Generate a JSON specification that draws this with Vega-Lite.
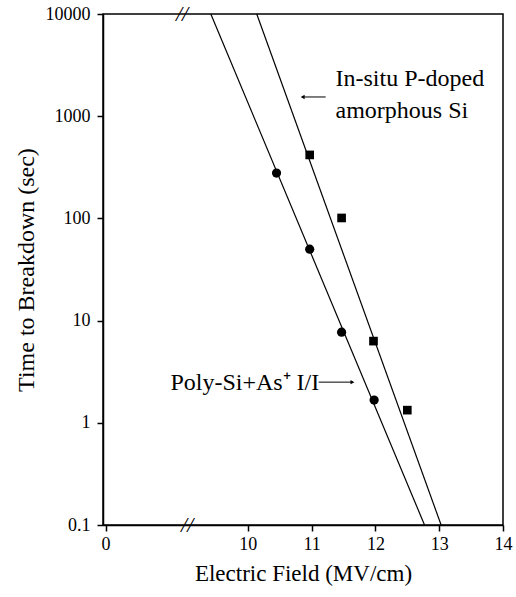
{
  "$schema": "https://vega.github.io/schema/vega-lite/v6.json",
  "width": 400,
  "height": 511,
  "autosize": "none",
  "padding": {"left": 103, "top": 14, "right": 13, "bottom": 72},
  "background": "white",
  "config": {
    "font": "Liberation Serif",
    "view": {"stroke": "#000", "strokeWidth": 1.5},
    "axis": {
      "grid": false,
      "domainColor": "#000",
      "domainWidth": 1.5,
      "tickColor": "#000",
      "tickWidth": 1.5,
      "tickSize": 6,
      "labelFont": "Liberation Serif",
      "labelFontSize": 18,
      "labelColor": "#000",
      "labelFlush": false,
      "labelOverlap": false,
      "titleFont": "Liberation Serif",
      "titleFontWeight": "normal",
      "titleColor": "#000"
    }
  },
  "datasets": {
    "poly": [
      {"x": 10.45, "y": 278},
      {"x": 10.97, "y": 50},
      {"x": 11.47, "y": 7.7},
      {"x": 11.98, "y": 1.67}
    ],
    "insitu": [
      {"x": 10.97, "y": 418},
      {"x": 11.47, "y": 101},
      {"x": 11.97, "y": 6.3},
      {"x": 12.5, "y": 1.33}
    ],
    "fits": [
      {"series": "poly", "x": 9.42, "y": 10000},
      {"series": "poly", "x": 12.77, "y": 0.1},
      {"series": "insitu", "x": 10.14, "y": 10000},
      {"series": "insitu", "x": 13.03, "y": 0.1}
    ],
    "arrowLeft": [{"x": 10.86, "x2": 11.22, "y": 1542}],
    "arrowRight": [{"x": 11.11, "x2": 11.64, "y": 2.5}],
    "labelsLeft": [
      {"x": 11.375, "y": 1973, "label": "In-situ P-doped"},
      {"x": 11.375, "y": 959, "label": "amorphous Si"}
    ],
    "labelsRight": [
      {"x": 11.12, "y": 2.09, "label": "Poly-Si+As⁺ I/I"}
    ],
    "breaks": [
      {"x": 8.97, "y": 10000, "label": "//"},
      {"x": 9.05, "y": 0.1, "label": "//"}
    ]
  },
  "encoding": {
    "x": {
      "field": "x",
      "type": "quantitative",
      "scale": {"domain": [7.73, 14], "nice": false, "zero": false},
      "axis": {
        "values": [7.77, 10, 11, 12, 13, 14],
        "labelExpr": "datum.value < 9 ? '0' : datum.label",
        "labelPadding": 4,
        "title": "Electric Field (MV/cm)",
        "titleFontSize": 23,
        "titlePadding": 9
      }
    },
    "y": {
      "field": "y",
      "type": "quantitative",
      "scale": {"type": "log", "domain": [0.1, 10000], "nice": false},
      "axis": {
        "values": [0.1, 1, 10, 100, 1000, 10000],
        "format": "~g",
        "labelPadding": 7,
        "title": "Time to Breakdown (sec)",
        "titleFontSize": 24,
        "titlePadding": 7
      }
    }
  },
  "layer": [
    {
      "data": {"name": "fits"},
      "mark": {"type": "line", "color": "#000", "strokeWidth": 1.2},
      "encoding": {"detail": {"field": "series"}}
    },
    {
      "data": {"name": "poly"},
      "mark": {"type": "point", "shape": "circle", "filled": true, "color": "#000", "size": 85, "opacity": 1}
    },
    {
      "data": {"name": "insitu"},
      "mark": {"type": "point", "shape": "square", "filled": true, "color": "#000", "size": 75, "opacity": 1}
    },
    {
      "data": {"name": "arrowLeft"},
      "mark": {"type": "rule", "color": "#000", "strokeWidth": 1},
      "encoding": {"x2": {"field": "x2"}}
    },
    {
      "data": {"name": "arrowLeft"},
      "mark": {"type": "point", "shape": "triangle-left", "filled": true, "color": "#000", "size": 20, "opacity": 1}
    },
    {
      "data": {"name": "arrowRight"},
      "mark": {"type": "rule", "color": "#000", "strokeWidth": 1},
      "encoding": {"x2": {"field": "x2"}}
    },
    {
      "data": {"name": "arrowRight"},
      "mark": {"type": "point", "shape": "triangle-right", "filled": true, "color": "#000", "size": 20, "opacity": 1},
      "encoding": {"x": {"field": "x2", "type": "quantitative"}}
    },
    {
      "data": {"name": "labelsLeft"},
      "mark": {"type": "text", "align": "left", "baseline": "alphabetic", "fontSize": 24, "color": "#000", "font": "Liberation Serif"},
      "encoding": {"text": {"field": "label"}}
    },
    {
      "data": {"name": "labelsRight"},
      "mark": {"type": "text", "align": "right", "baseline": "alphabetic", "fontSize": 24, "color": "#000", "font": "Liberation Serif"},
      "encoding": {"text": {"field": "label"}}
    },
    {
      "data": {"name": "breaks"},
      "mark": {"type": "text", "align": "center", "baseline": "middle", "fontSize": 22, "fontStyle": "italic", "color": "#000", "font": "Liberation Serif"},
      "encoding": {"text": {"field": "label"}}
    }
  ]
}
